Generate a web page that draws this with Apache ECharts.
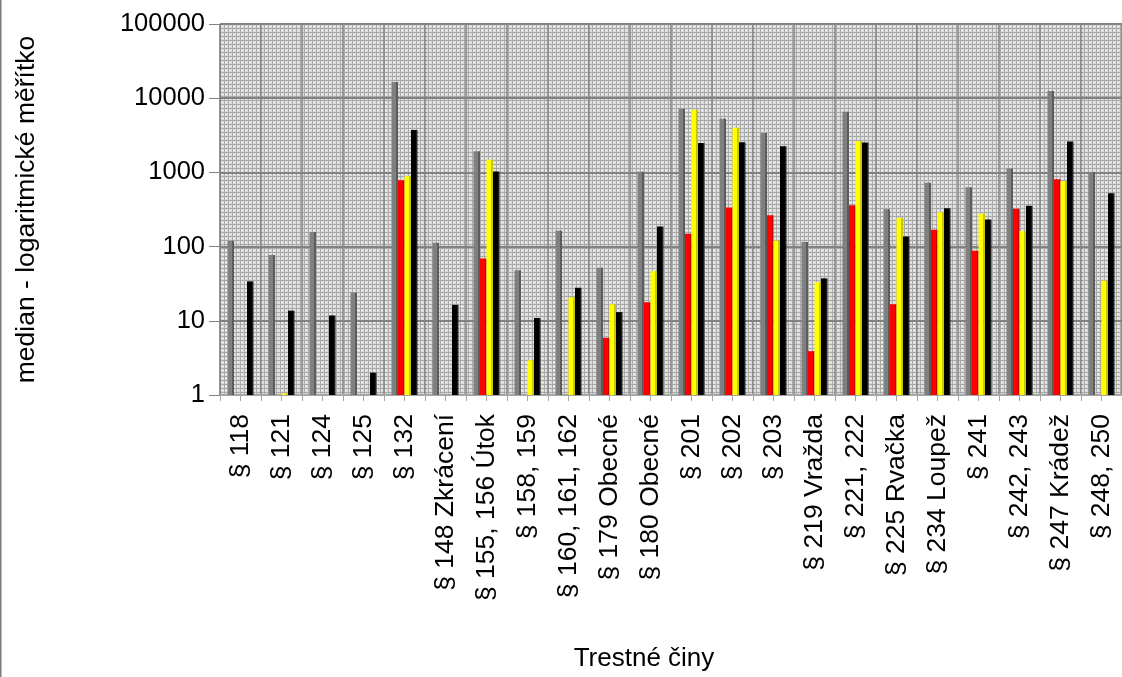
<!DOCTYPE html>
<html>
<head>
<meta charset="utf-8">
<script src="https://cdn.jsdelivr.net/npm/echarts@6/dist/echarts.min.js"></script>
<style>
html,body{margin:0;padding:0;background:#fff;}
#chart{width:1122px;height:677px;}
</style>
</head>
<body>
<div id="chart"></div>
<script>
const categories = ['§ 118','§ 121','§ 124','§ 125','§ 132','§ 148 Zkrácení','§ 155, 156 Útok','§ 158, 159','§ 160, 161, 162','§ 179 Obecné','§ 180 Obecné','§ 201','§ 202','§ 203','§ 219 Vražda','§ 221, 222','§ 225 Rvačka','§ 234 Loupež','§ 241','§ 242, 243','§ 247 Krádež','§ 248, 250'];
const grayValues   = [120, 77, 157, 24, 16500, 113, 1930, 48, 164, 52, 1020, 7200, 5290, 3400, 115, 6560, 319, 727, 630, 1130, 12500, 1010];
const redValues    = [null, null, null, null, 781, null, 69, null, null, 5.9, 17.8, 149, 336, 265, 3.9, 361, 16.7, 169, 88, 323, 806, null];
const yellowValues = [null, 1.05, null, null, 884, null, 1478, 2.94, 20.7, 16.7, 46.7, 6980, 4006, 120, 33, 2655, 242, 291, 277, 162, 765, 34.7];
const blackValues  = [34, 13.7, 11.8, 2.0, 3727, 16.4, 1031, 10.9, 27.9, 13.1, 187, 2497, 2548, 2254, 37.3, 2523, 137, 330, 232, 354, 2601, 523];
const yTicks = [1, 10, 100, 1000, 10000, 100000];
const halfTicks = [];
for (let i = 0; i < categories.length * 2; i++) halfTicks.push('');

// background pattern tile
const tile = document.createElement('canvas');
tile.width = 4; tile.height = 4;
const tc = tile.getContext('2d');
tc.fillStyle = '#dadada'; tc.fillRect(0,0,4,4);
tc.fillStyle = '#f2f2f2'; tc.fillRect(2,2,1,1); tc.fillRect(1,2,1,1);
tc.fillStyle = '#9a9a9a';
tc.fillRect(0,0,1,1); tc.fillRect(2,0,1,1); tc.fillRect(0,2,1,1);
tc.fillStyle = '#b8b8b8';
tc.fillRect(1,0,1,1); tc.fillRect(3,0,1,1); tc.fillRect(0,1,1,1); tc.fillRect(0,3,1,1);

function grad(front, side) {
  return new echarts.graphic.LinearGradient(0, 0, 1, 0, [
    {offset: 0, color: front}, {offset: 0.7, color: front},
    {offset: 0.7, color: side}, {offset: 1, color: side}
  ]);
}
const font = '"Liberation Sans", Arial, sans-serif';
function bar(name, data, front, side) {
  return {
    name, type: 'bar', data, barWidth: 6.5, barGap: '0%',
    xAxisIndex: 0, yAxisIndex: 0,
    itemStyle: {color: grad(front, side)}
  };
}

const chart = echarts.init(document.getElementById('chart'));
chart.setOption({
  animation: false,
  backgroundColor: '#ffffff',
  grid: {
    left: 220, top: 24, width: 908.4, height: 373.5,
    show: true,
    backgroundColor: {image: tile, repeat: 'repeat'},
    borderColor: '#8c8c8c', borderWidth: 1
  },
  graphic: [
    {type: 'rect', left: 0, top: 0, shape: {width: 1.5, height: 677}, style: {fill: '#7a7a7a'}, silent: true}
  ],
  xAxis: [
    {
      type: 'category', data: categories, position: 'bottom',
      name: 'Trestné činy', nameLocation: 'middle', nameGap: 251,
      nameTextStyle: {fontFamily: font, fontSize: 26, color: '#000', padding: [0, 54, 0, 0]},
      axisLine: {show: true, lineStyle: {color: '#a6a6a6', width: 2}},
      axisTick: {show: false},
      axisLabel: {interval: 0, rotate: 90, margin: 19, fontFamily: font, fontSize: 26.5, color: '#000'},
      splitLine: {show: true, interval: 0, lineStyle: {color: '#858585', width: 1.5}}
    },
    {
      type: 'category', data: halfTicks, position: 'bottom',
      axisLine: {show: false},
      axisTick: {show: true, interval: 0, length: 6, lineStyle: {color: '#a6a6a6', width: 1}},
      axisLabel: {show: false},
      splitLine: {show: false}
    }
  ],
  yAxis: {
    type: 'log', logBase: 10, min: 1, max: 100000,
    name: 'median - logaritmické měřítko', nameLocation: 'middle', nameGap: 180,
    nameTextStyle: {fontFamily: font, fontSize: 26.5, color: '#000'},
    axisLine: {show: true, lineStyle: {color: '#808080', width: 1}},
    axisTick: {show: true, length: 11, lineStyle: {color: '#808080'}},
    axisLabel: {
      margin: 15, fontFamily: font, fontSize: 25.5, color: '#000',
      formatter: function (v) { const r = Math.round(v); return yTicks.indexOf(r) >= 0 ? String(r) : ''; }
    },
    splitLine: {show: true, lineStyle: {color: '#828282', width: 2}}
  },
  series: [
    bar('šedá', grayValues, '#808080', '#5c5c5c'),
    bar('červená', redValues, '#ff0000', '#c80000'),
    bar('žlutá', yellowValues, '#ffff00', '#c8c800'),
    bar('černá', blackValues, '#000000', '#1e1e1e')
  ]
});
</script>
</body>
</html>
